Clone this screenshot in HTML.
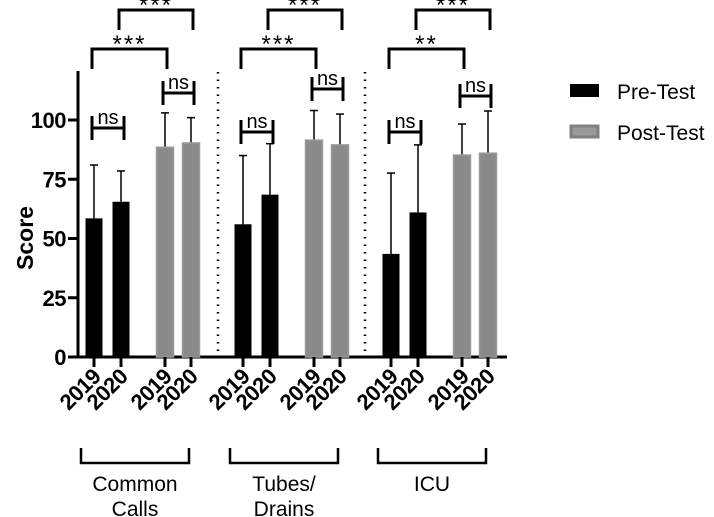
<!DOCTYPE html>
<html><head><meta charset="utf-8"><style>
body{margin:0;background:#fff;}
svg{display:block;font-family:"Liberation Sans",Arial,sans-serif;}
</style></head><body>
<svg id="chart" width="714" height="517" viewBox="0 0 714 517"></svg>
<script>
const groups = ["Common Calls", "Tubes/ Drains", "ICU"];
const years = ["2019", "2020", "2019", "2020"];
const means = [[58.5, 65.5, 88.5, 90.3], [56, 68.5, 91.5, 89.5], [43.5, 61, 85.2, 86]];
const errTops = [[81, 78.5, 103, 101], [85, 90, 104, 102.5], [77.6, 89.5, 98.3, 103.8]];
const yTicks = [0, 25, 50, 75, 100];
const sigLabels = [["ns", "ns", "***", "***"], ["ns", "ns", "***", "***"], ["ns", "ns", "**", "***"]];

const NS = "http://www.w3.org/2000/svg";
const svg = document.getElementById("chart");
const y0 = 357, pxPer = 2.37;
function yS(v){ return y0 - v * pxPer; }
const groupX = [94, 243, 391];
const barOff = [0, 27, 71, 97];
const nsLevel = [[128, 93], [132, 89], [132, 96]];
function xS(g, i){ return groupX[g] + barOff[i]; }
function mk(tag, attrs, name, parent){
  const e = document.createElementNS(NS, tag);
  for (const k in attrs) e.setAttribute(k, attrs[k]);
  
  
  (parent || svg).appendChild(e);
  return e;
}
mk('line', {x1:78, y1:71, x2:78, y2:y0+1, stroke:'#000', 'stroke-width':3}, 'y-axis');
mk('line', {x1:77, y1:y0, x2:507, y2:y0, stroke:'#000', 'stroke-width':3}, 'x-axis');
yTicks.forEach(t => {
  mk('line', {x1:68, y1:yS(t), x2:78, y2:yS(t), stroke:'#000', 'stroke-width':3}, 'y-tick');
  const tx = mk('text', {x:66, y:yS(t)+8, 'text-anchor':'end', 'font-size':22, 'font-weight':'bold', 'letter-spacing':'-0.5'}, 'y-tick-label');
  tx.textContent = t;
});
const yt = mk('text', {x:0, y:0, transform:'translate(33,238) rotate(-90)', 'text-anchor':'middle', 'font-size':23, 'font-weight':'bold'}, 'y-axis-title');
yt.textContent = 'Score';
[218, 365].forEach(x => mk('line', {x1:x, y1:72, x2:x, y2:y0-2, stroke:'#000', 'stroke-width':2.5, 'stroke-dasharray':'1.5 6'}, 'group-separator'));
const bw = 17;
groups.forEach((gname, g) => {
  years.forEach((yr, i) => {
    const x = xS(g, i), v = means[g][i], et = errTops[g][i];
    const post = i >= 2;
    mk('line', {x1:x, y1:yS(v), x2:x, y2:yS(et), stroke:'#000', 'stroke-width':1.5}, 'error-bar');
    mk('line', {x1:x-4, y1:yS(et), x2:x+4, y2:yS(et), stroke:'#000', 'stroke-width':1.5}, 'error-cap');
    mk('rect', {x:x-bw/2, y:yS(v), width:bw, height:y0-yS(v), fill: post ? '#8a8a8a' : '#000', stroke: post ? '#999' : 'none', 'stroke-width':1.5}, post ? 'bar-post-test' : 'bar-pre-test');
    mk('line', {x1:x, y1:y0, x2:x, y2:367, stroke:'#000', 'stroke-width':3}, 'x-tick');
    const lb = mk('text', {x:0, y:0, transform:`translate(${x+8},${378}) rotate(-45)`, 'text-anchor':'end', 'font-size':22, 'font-weight':'bold', 'letter-spacing':'-0.5'}, 'x-tick-label');
    lb.textContent = yr;
  });
  for (let k = 0; k < 4; k++) {
    const pairs = [[0,1],[2,3],[0,2],[1,3]][k];
    const xa = xS(g, pairs[0]) - 2, xb = xS(g, pairs[1]) + (k < 2 ? 3 : 2);
    let d, yh;
    if (k < 2) {
      yh = nsLevel[g][k];
      d = `M${xa},${yh-12} L${xa},${yh+12} M${xa},${yh} L${xb},${yh} M${xb},${yh-12} L${xb},${yh+12}`;
    } else {
      yh = k === 2 ? 49 : 10;
      d = `M${xa},${yh+20} L${xa},${yh} L${xb},${yh} L${xb},${yh+20}`;
    }
    mk('path', {d, fill:'none', stroke:'#000', 'stroke-width':3}, 'significance-bracket');
    const isNs = sigLabels[g][k] === 'ns';
    const st = mk('text', {x:(xa+xb)/2, y: isNs ? yh-4 : yh+3, 'text-anchor':'middle', 'font-size': isNs ? 20 : 24, 'letter-spacing': isNs ? 0 : 2}, 'significance-label');
    st.textContent = sigLabels[g][k];
  }
  const gx1 = groupX[g] - 13, gx2 = groupX[g] + 95;
  mk('path', {d:`M${gx1},448 L${gx1},463 L${gx2},463 L${gx2},448`, fill:'none', stroke:'#000', 'stroke-width':2.5}, 'group-bracket');
  const parts = gname === "Common Calls" ? ["Common","Calls"] : gname === "Tubes/ Drains" ? ["Tubes/","Drains"] : ["ICU"];
  parts.forEach((p, j) => {
    const t = mk('text', {x:(gx1+gx2)/2, y:491 + j*25, 'text-anchor':'middle', 'font-size':21}, 'group-label');
    t.textContent = p;
  });
});
mk('rect', {x:570, y:84, width:29, height:13, fill:'#000'}, 'legend-swatch-pre');
const l1 = mk('text', {x:617, y:99, 'font-size':21}, 'legend-label-pre'); l1.textContent = 'Pre-Test';
mk('rect', {x:571, y:126, width:27, height:11, fill:'#999', stroke:'#808080', 'stroke-width':3}, 'legend-swatch-post');
const l2 = mk('text', {x:617, y:140, 'font-size':21}, 'legend-label-post'); l2.textContent = 'Post-Test';
</script>
</body></html>
